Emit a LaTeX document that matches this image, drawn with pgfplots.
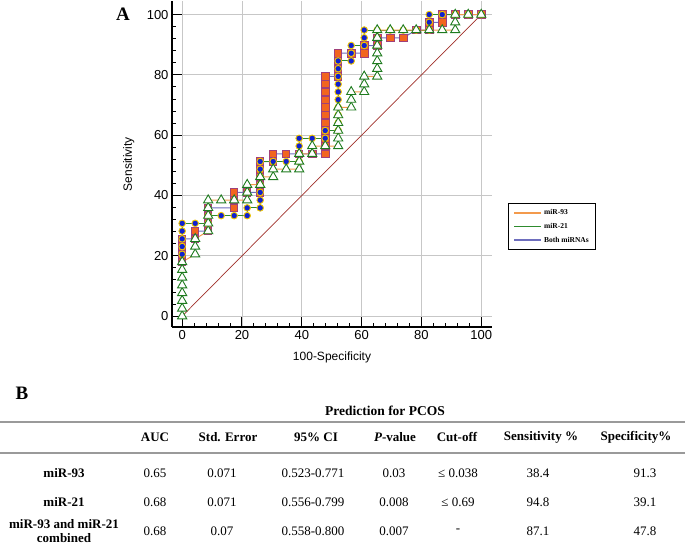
\documentclass[border=0pt]{standalone}
\usepackage{pgfplots}
\pgfplotsset{compat=1.18}
\usepackage{fontspec}
\setmainfont{Liberation Serif}
\newfontfamily\sansf{Liberation Sans}
\definecolor{sqfill}{HTML}{F2651F}
\definecolor{sqedge}{HTML}{A0407A}
\definecolor{cfill}{HTML}{1020D0}
\definecolor{cedge}{HTML}{F0C800}
\definecolor{tedge}{HTML}{1E7B1E}
\definecolor{lorange}{HTML}{F39A4C}
\definecolor{lgreen}{HTML}{2E8B2E}
\definecolor{lpurple}{HTML}{6E6EBE}
\definecolor{diag}{HTML}{A0302A}
\definecolor{rulec}{HTML}{9A9A9A}
\newcommand\tb{\fontsize{13}{15}\selectfont}
\begin{document}
\begin{tikzpicture}[x=1pt,y=1pt]
\path[use as bounding box] (0,0) rectangle (685,-544);
\begin{axis}[at={(172pt,-327pt)}, anchor=south west, width=320pt, height=326pt, scale only axis,
 xmin=-3.4, xmax=103.6, ymin=-3.6, ymax=104.5,
 axis lines=left, axis line style={-, line width=1.4pt},
 xtick={0,20,...,100}, ytick={0,20,...,100}, minor tick num=4,
 tick align=inside, major tick length=10pt, minor tick length=4pt,
 tick style={black, line width=1pt},
 grid=major, major grid style={black!22, line width=0.9pt},
 /pgf/number format/assume math mode=true,
 ticklabel style={font=\sansf\fontsize{13}{13}\selectfont},
 xlabel={100-Specificity}, ylabel={Sensitivity},
 every axis y label/.style={at={(axis description cs:-0.135,0.5)}, rotate=90, anchor=center, font=\sansf\fontsize{12}{12}\selectfont},
 every axis x label/.style={at={(axis description cs:0.5,-0.092)}, anchor=center, font=\sansf\fontsize{12}{12}\selectfont},
 legend style={at={(axis description cs:1.05,0.38)}, anchor=north west, draw=black, line width=0.8pt,
   font=\bfseries\fontsize{7.5}{9}\selectfont, row sep=3pt, inner xsep=5pt, inner ysep=4pt},
 legend cell align=left,
 legend image code/.code={\draw[#1, line width=1.6pt] (0pt,0pt) -- (27pt,0pt);},
]
\addlegendimage{lorange}\addlegendentry{miR-93}
\addlegendimage{lgreen}\addlegendentry{miR-21}
\addlegendimage{lpurple}\addlegendentry{Both miRNAs}
\addplot[diag, line width=0.7pt, forget plot] coordinates {(0,0) (100,100)};
% miR-93 (squares)
\addplot[lpurple, line width=1pt, mark=square*, mark size=3.7pt, mark options={fill=sqfill, draw=sqedge, line width=0.8pt}, forget plot] coordinates {
(0,17.95)(0,20.51)(0,23.08)(0,25.64)(4.35,25.64)(4.35,28.21)(8.70,28.21)(8.70,30.77)(8.70,33.33)(8.70,35.90)(17.39,35.90)(17.39,38.46)(17.39,41.03)(21.74,41.03)(26.09,41.03)(26.09,43.59)(26.09,46.15)(26.09,48.72)(26.09,51.28)(30.43,51.28)(30.43,53.85)(34.78,53.85)(39.13,53.85)(43.48,53.85)(47.83,53.85)(47.83,56.41)(47.83,58.97)(47.83,61.54)(47.83,64.10)(47.83,66.67)(47.83,69.23)(47.83,71.79)(47.83,74.36)(47.83,76.92)(47.83,79.49)(52.17,79.49)(52.17,82.05)(52.17,84.62)(52.17,87.18)(56.52,87.18)(60.87,87.18)(60.87,89.74)(65.22,89.74)(65.22,92.31)(69.57,92.31)(73.91,92.31)(78.26,94.87)(82.61,94.87)(82.61,97.44)(86.96,97.44)(86.96,100)(91.30,100)(95.65,100)(100,100)};
% Both (circles)
\addplot[lgreen, line width=1pt, mark=*, mark size=3.3pt, mark options={fill=cfill, draw=cedge, line width=0.9pt}, forget plot] coordinates {
(0,20.51)(0,23.08)(0,25.64)(0,28.21)(0,30.77)(4.35,30.77)(8.70,30.77)(8.70,33.33)(13.04,33.33)(17.39,33.33)(21.74,33.33)(21.74,35.90)(26.09,35.90)(26.09,38.46)(26.09,41.03)(26.09,43.59)(26.09,46.15)(26.09,48.72)(26.09,51.28)(30.43,51.28)(34.78,51.28)(39.13,51.28)(39.13,53.85)(39.13,56.41)(39.13,58.97)(43.48,58.97)(47.83,58.97)(47.83,61.54)(52.17,61.54)(52.17,64.10)(52.17,66.67)(52.17,69.23)(52.17,71.79)(52.17,74.36)(52.17,76.92)(52.17,79.49)(52.17,82.05)(52.17,84.62)(56.52,84.62)(56.52,87.18)(56.52,89.74)(60.87,89.74)(60.87,92.31)(60.87,94.87)(65.22,94.87)(69.57,94.87)(73.91,94.87)(78.26,94.87)(82.61,94.87)(82.61,97.44)(82.61,100)(86.96,100)(91.30,100)(95.65,100)(100,100)};
% miR-21 (triangles)
\addplot[lorange, line width=1pt, mark=triangle*, mark size=5.3pt, mark options={fill=white, draw=tedge, line width=0.9pt}, forget plot] coordinates {
(0,0)(0,2.56)(0,5.13)(0,7.69)(0,10.26)(0,12.82)(0,15.38)(0,17.95)(4.35,20.51)(4.35,23.08)(4.35,25.64)(8.70,28.21)(8.70,30.77)(8.70,33.33)(8.70,35.90)(8.70,38.46)(13.04,38.46)(17.39,38.46)(21.74,38.46)(21.74,41.03)(21.74,43.59)(26.09,43.59)(26.09,46.15)(30.43,46.15)(30.43,48.72)(34.78,48.72)(39.13,48.72)(39.13,51.28)(39.13,53.85)(43.48,53.85)(43.48,56.41)(47.83,56.41)(52.17,56.41)(52.17,58.97)(52.17,61.54)(52.17,64.10)(52.17,66.67)(52.17,69.23)(56.52,69.23)(56.52,71.79)(56.52,74.36)(60.87,74.36)(60.87,76.92)(60.87,79.49)(65.22,79.49)(65.22,82.05)(65.22,84.62)(65.22,87.18)(65.22,89.74)(65.22,92.31)(65.22,94.87)(69.57,94.87)(73.91,94.87)(78.26,94.87)(82.61,94.87)(86.96,94.87)(91.30,94.87)(91.30,97.44)(91.30,100)(95.65,100)(100,100)};
\end{axis}
\node[font=\bfseries\fontsize{19}{19}\selectfont] at (123,-14) {A};
\node[font=\bfseries\fontsize{19}{19}\selectfont] at (22,-393) {B};
\node[font=\bfseries\fontsize{13.5}{15}\selectfont] at (385,-411) {Prediction for PCOS};
\draw[rulec, line width=2pt] (0,-422) -- (685,-422);
\begin{scope}[every node/.style={font=\bfseries\tb}]
\node at (155,-437) {AUC};
\node at (228,-437) {Std. Error};
\node at (316,-437) {95\% CI};
\node at (395,-437) {\textit{P}-value};
\node at (457,-437) {Cut-off};
\node at (541,-437) {Sensitivity \%};
\node at (636,-437) {Specificity\%};
\node at (64,-473) {miR-93};
\node at (64,-502) {miR-21};
\node[align=center, font=\bfseries\fontsize{13}{14}\selectfont] at (64,-531) {miR-93 and miR-21\\combined};
\end{scope}
\draw[rulec, line width=2pt] (0,-453) -- (685,-453);
\begin{scope}[every node/.style={font=\tb}]
\node at (155,-473) {0.65};
\node at (222,-473) {0.071};
\node at (313,-473) {0.523-0.771};
\node at (394,-473) {0.03};
\node at (458,-473) {≤ 0.038};
\node at (538,-473) {38.4};
\node at (645,-473) {91.3};
\node at (155,-502) {0.68};
\node at (222,-502) {0.071};
\node at (313,-502) {0.556-0.799};
\node at (394,-502) {0.008};
\node at (458,-502) {≤ 0.69};
\node at (538,-502) {94.8};
\node at (645,-502) {39.1};
\node at (155,-531) {0.68};
\node at (222,-531) {0.07};
\node at (313,-531) {0.558-0.800};
\node at (394,-531) {0.007};
\node at (458,-531) {-};
\node at (538,-531) {87.1};
\node at (645,-531) {47.8};
\end{scope}
\end{tikzpicture}
\end{document}
